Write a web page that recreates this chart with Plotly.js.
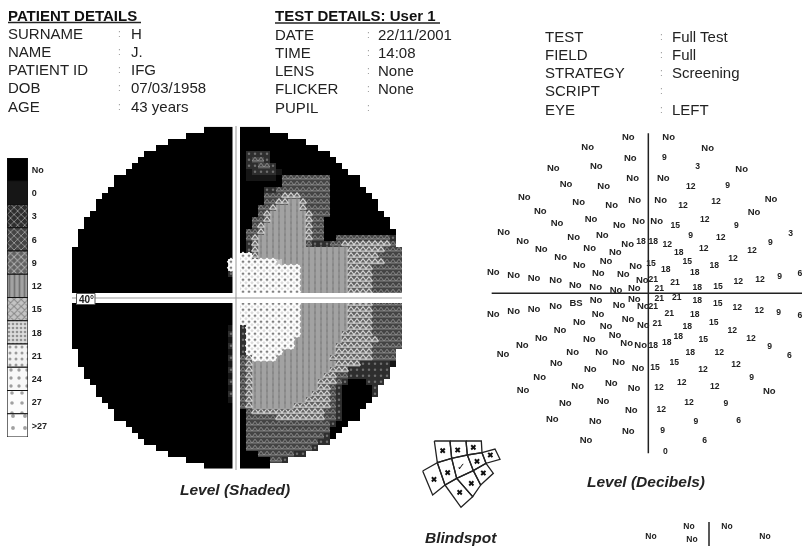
<!DOCTYPE html>
<html><head><meta charset="utf-8">
<script src="https://cdn.plot.ly/plotly-3.0.1.min.js"></script>
<style>html,body{margin:0;padding:0;background:#fff;overflow:hidden}#c{width:802px;height:546px;filter:blur(0.75px)}</style>
</head><body><div id="c"></div>
<script>
// ---------- header text ----------
const patientLabels = ["SURNAME","NAME","PATIENT ID","DOB","AGE"];
const patientValues = ["H","J.","IFG","07/03/1958","43 years"];
const testLabels = ["DATE","TIME","LENS","FLICKER","PUPIL"];
const testValues = ["22/11/2001","14:08","None","None",""];
const extraLabels = ["TEST","FIELD","STRATEGY","SCRIPT","EYE"];
const extraValues = ["Full Test","Full","Screening","","LEFT"];

// ---------- legend ----------
const levelNames = ["No","0","3","6","9","12","15","18","21","24","27",">27"];
const levelColors = ["#000000","#161616","#2e2e2e","#444444","#626262","#a2a2a2","#c4c4c4","#dcdcdc","#f2f2f2","#f8f8f8","#fcfcfc","#ffffff"];
const levelPatterns = ["","","x","x","x","|","x",".",".",".",".","."];
const levelInks = ["#000","#000","#777","#aaa","#bbb","#888","#eee","#777","#666","#888","#aaa","#bbb"];
const levelPatternSizes = [5,5,5,5,5,5,5,4,6,8,10,12];
const levelPatternFill = [0.3,0.3,0.3,0.3,0.35,0.35,0.35,0.35,0.2,0.14,0.1,0.08];

// ---------- shaded field: level grid; one code per cell ----------
const levelCodes = {N:0,"0":1,"3":2,"6":3,"9":4,C:5,F:6,E:7,T:8};
const rightRows = [
"NNNNN","NNNNNNNN","NNNNNNNNNNN","NNNNNNNNNNNNN","N3333NNNNNNNNNN","N3663NNNNNNNNNNN","N33663NNNNNNNNNNN",
"N033330NNNNNNNNNNN","N00000N66666666NNNNN","NNNNNNN66666666NNNNN","NNNN33666666666NNNNNN","NNNN66699966666NNNNNNN",
"NNNN6699CC96666NNNNNNNN","NNN669CCCC96666NNNNNNNN","NNN69CCCCCC9666NNNNNNNNN","NN669CCCCCC966NNNNNNNNNNN",
"NN69CCCCCCC966NNNNNNNNNNN","N669CCCCCCC966NNNNNNNNNNNN","N69CCCCCCCC966NN6666666663","N39CCCCCCCC633366999999996",
"N39CCCCCCCCCCCCCCC999999666","EE9CCCCCCCCCCCCCCC999996666","EEEEEEFCCCCCCCCCCC999999666","EEEEEEEEEECCCCCCCC999966666",
"EEEEEEEEEECCCCCCCC999966666","EEEEEEEEEECCCCCCCC999966666","EEEEEEEEEECCCCCCCC999966666","EEEEEEEEEECCCCCCCC999966666",
"",
"EEEEEEEEEECCCCCCCC999966666","EEEEEEEEEECCCCCCCC999966666","EEEEEEEEEECCCCCCCC999966666","EEEEEEEEEECCCCCCCC999966666",
"3EEEEEEEEECCCCCCCC999966666","3EEEEEEEEECCCCCCC9999966666","3EEEEEEEECCCCCCCC9999996666","3EEEEEEEECCCCCCC99999966666",
"3EEEEEECCCCCCCCC9999996666","69EEEECCCCCCCCC99999996666","69CCCCCCCCCCCCCC9999333330",
"69CCCCCCCCCCCCC9993333333","69CCCCCCCCCCCC99663333333","69CCCCCCCCCCC99963NNN333","69CCCCCCCCCCC9963NNNNN3",
"69CCCCCCCCCC99963NNNNN3","69CCCCCCCCC999963NNNNN","69CCCCCCC99999963NNNN","N6999999999999663NNN",
"N6666699999999663NNN","N666666666666663NN","N66666666666666NN","N66666666666663N","N66666666666633",
"N666666666663","NNN66666633","NNNNN663","NNNNN"];
const leftCols = [5,8,11,13,15,16,17,18,20,20,21,22,23,23,24,25,25,26,26,26,27,27,27,27,27,27,27,27,0,27,27,27,27,27,27,27,27,26,26,26,25,25,24,23,23,22,21,20,20,18,17,16,15,13,11,8,5];
const leftInner = {22:"E",23:"E",24:"3",33:"0",34:"3",35:"0",36:"3",37:"0",38:"3",39:"0",40:"3",41:"0",42:"3",43:"0",44:"3",45:"0"};

// ---------- decibel map: readings above the horizontal meridian ----------
const topLabels = ["No","No","No","No","No","9","No","No","3","No","No","No","No","No","12","9","No","No","No","No","No","12","12","No","No","No","No","No","No","No","No","15","12","9","No","No","No","9","12","3","No","No","18","18","12","9","No","No","No","18","12","12","No","No","15","15","12","No","No","18","18","No","No","No","No","No","No","No","18","21","No","21","12","12","9","6","No","No","No","21","18","15"];
const topX = [445,566,323,683,451,553,220,349,653,785,258,371,458,550,632,743,133,296,395,464,542,609,708,873,181,822,231,333,418,476,530,586,674,769,71,281,367,632,722,932,128,443,483,520,562,871,184,329,406,596,671,816,242,378,513,622,759,298,467,557,703,40,101,162,227,355,430,286,644,520,487,585,775,840,899,960,347,408,463,538,652,714];
const topY = [38,38,68,70,100,100,130,126,127,133,180,185,162,162,186,182,219,232,242,228,228,243,232,224,260,262,297,284,302,291,291,302,285,302,324,337,333,333,340,328,351,360,350,352,360,354,375,372,384,385,373,377,398,411,416,411,402,422,424,435,424,443,452,460,467,445,450,482,445,466,466,474,470,464,456,448,489,497,492,492,488,485];
// readings below it
const lowLabels = ["No","No","21","21","18","15","12","12","9","6","BS","No","No","No","No","No","No","21","21","18","No","15","18","12","No","No","No","No","21","No","18","No","15","12","No","No","No","18","No","18","9","No","18","12","No","No","No","6","No","No","15","12","No","No","15","12","No","9","No","12","No","No","12","12","No","No","12","No","9","12","No","No","6","No","9","No","9","No","6","No","0"];
const lowX = [348,463,538,590,652,713,772,838,896,960,288,417,227,162,101,40,490,520,568,644,354,701,622,757,444,298,378,490,532,240,595,405,670,813,184,328,440,560,482,520,869,127,631,718,278,365,69,928,229,416,583,768,331,474,525,669,179,815,394,605,293,462,537,704,129,868,627,369,738,544,256,454,776,217,648,346,548,445,674,318,556];
const lowY = [32,28,27,25,34,42,54,63,68,78,40,47,50,58,66,74,50,52,72,76,75,100,111,124,88,98,110,106,103,122,140,138,150,148,145,150,160,160,168,168,170,168,188,190,188,188,194,198,222,219,220,226,240,235,233,241,263,264,280,280,291,296,295,292,301,305,338,336,343,361,341,361,392,389,395,394,423,424,454,453,486];
// the second map, cut off by the page edge
const nextLabels = ["No","No","No","No","No"];
const nextX = [627,741,513,855,636];
const nextY = [1206,1206,1236,1236,1245];

// ---------- blindspot test grid ----------
const blindCells = [
 [[73,33],[120,33],[125,85],[82,98]],[[120,33],[168,33],[172,75],[125,85]],[[168,33],[214,33],[216,68],[172,75]],
 [[216,68],[255,57],[270,88],[228,100]],[[172,75],[216,68],[228,100],[190,122]],[[125,85],[172,75],[190,122],[140,145]],
 [[190,122],[228,100],[250,130],[212,165]],[[82,98],[125,85],[140,145],[105,165]],[[38,123],[82,98],[105,165],[68,195]],
 [[140,145],[190,122],[212,165],[188,200]],[[105,165],[140,145],[188,200],[153,232]]];
const blindMissX = [98,143,190,241,201,220,113,72,184,149];
const blindMissY = [62,60,52,75,94,129,128,148,160,187];
const blindSeenX = [153]; const blindSeenY = [113];

// ---------- build ----------
const nRows = rightRows.length, gapCol = 27;
const z = [];
for (let r=0;r<nRows;r++){
  const row = new Array(55).fill(null);
  const n = leftCols[r];
  for (let i=0;i<n;i++) row[gapCol-1-i] = 0;
  if (leftInner[r]!==undefined && n>0) row[gapCol-1] = levelCodes[leftInner[r]];
  [...rightRows[r]].forEach((ch,i)=>{row[gapCol+1+i]=levelCodes[ch];});
  z.push(row);
}
const stops=[]; const nLv=levelColors.length;
levelColors.forEach((c,i)=>{stops.push([i/nLv,c]);stops.push([(i+1)/nLv,c]);});

function cellsOf(code){const xs=[],ys=[];z.forEach((row,r)=>row.forEach((v,c)=>{if(v===code){xs.push(c);ys.push(r);}}));return {x:xs,y:ys};}
function texture(code,symbol,size,color,lw){
  const p=cellsOf(code);
  return {type:"scatter",mode:"markers",xaxis:"x",yaxis:"y",x:p.x,y:p.y,hoverinfo:"skip",cliponaxis:true,
    marker:{symbol:symbol,size:size,color:color,line:{width:lw===undefined?0:lw,color:color}}};
}
const dbFont=(labels)=>({family:"Liberation Sans",size:labels.map(s=>s==="No"||s==="BS"?9.5:8.6),color:"#222",weight:700});
const traces=[
 {type:"heatmap",xaxis:"x",yaxis:"y",z:z,zmin:0,zmax:nLv,colorscale:stops,showscale:false,zsmooth:false,hoverinfo:"skip"},
 texture(levelCodes["3"],"circle",2.5,"#6e6e6e"),
 texture(levelCodes["6"],"triangle-up-open",5,"#8c8c8c",1),
 texture(levelCodes["9"],"triangle-up-open",6,"#d0d0d0",1.2),
 texture(levelCodes.C,"line-ns",6,"#7f7f7f",1),
 texture(levelCodes.E,"diamond-open",5,"#ffffff",1.4),
 texture(levelCodes.E,"circle",2,"#777777"),
 {type:"bar",orientation:"h",xaxis:"x2",yaxis:"y2",y:levelNames,x:levelNames.map(()=>1),width:1,hoverinfo:"skip",
  marker:{color:levelColors,line:{color:"#111",width:1.2},pattern:{shape:levelPatterns,fillmode:"overlay",fgcolor:levelInks,size:levelPatternSizes,solidity:levelPatternFill}}},
 {type:"scatter",mode:"text",xaxis:"x3",yaxis:"y3",x:topX,y:topY,text:topLabels,textfont:dbFont(topLabels),hoverinfo:"skip"},
 {type:"scatter",mode:"text",xaxis:"x3",yaxis:"y3",x:lowX,y:lowY.map(v=>v+495),text:lowLabels,textfont:dbFont(lowLabels),hoverinfo:"skip"},
 {type:"scatter",mode:"text",xaxis:"x3",yaxis:"y3",x:nextX,y:nextY,text:nextLabels,textfont:{family:"Liberation Sans",size:8.5,color:"#222",weight:700},hoverinfo:"skip"},
 {type:"scatter",mode:"lines",xaxis:"x3",yaxis:"y3",x:[505,505,null,35,966],y:[25,985,null,505,505],line:{color:"#222",width:1.5},hoverinfo:"skip"},
 {type:"scatter",mode:"lines",xaxis:"x3",yaxis:"y3",x:[687,687],y:[1191,1263],line:{color:"#222",width:1.5},hoverinfo:"skip"},
 {type:"scatter",mode:"lines",xaxis:"x4",yaxis:"y4",hoverinfo:"skip",line:{color:"#222",width:1.3},
  x:blindCells.flatMap(c=>[...c.map(p=>p[0]),c[0][0],null]),y:blindCells.flatMap(c=>[...c.map(p=>p[1]),c[0][1],null])},
 {type:"scatter",mode:"markers",xaxis:"x4",yaxis:"y4",x:blindMissX,y:blindMissY,hoverinfo:"skip",marker:{symbol:"x",size:5,color:"#111"}},
 {type:"scatter",mode:"text",xaxis:"x4",yaxis:"y4",x:blindSeenX,y:blindSeenY,text:["✓"],textfont:{size:10,color:"#111"},hoverinfo:"skip"},
];

const W=802,H=546;
const dx=(a,b)=>[a/W,b/W], dy=(a,b)=>[1-b/H,1-a/H];
const hidden={visible:false,fixedrange:true};
const anns=[];
const T=(x,y,text,o={})=>anns.push(Object.assign({xref:"x5",yref:"y5",x,y,text,showarrow:false,xanchor:"left",yanchor:"middle",
  font:{family:"Liberation Sans",size:15,color:"#222"}},o));
function block(labels,values,x1,xc,x2,y0,step){
  labels.forEach((l,i)=>{const y=y0+i*step;T(x1,y,l);T(xc,y,":",{font:{family:"Liberation Sans",size:10,color:"#999"}});if(values[i])T(x2,y,values[i]);});
}
block(patientLabels,patientValues,6,116,129,33,18.3);
block(testLabels,testValues,273,365,376,34,18.3);
block(extraLabels,extraValues,543,658,670,36,18.3);
const headFont={family:"Liberation Sans",size:15,color:"#111"};
T(6,15,"<b>PATIENT DETAILS</b>",{font:headFont});
T(273,15.5,"<b>TEST DETAILS: User 1</b>",{font:headFont});
const capFont=s=>({family:"Liberation Sans",size:s,color:"#222"});
T(235,489,"<b><i>Level (Shaded)</i></b>",{xanchor:"center",font:capFont(15.5)});
T(646,481,"<b><i>Level (Decibels)</i></b>",{xanchor:"center",font:capFont(15.5)});
T(461,537,"<b><i>Blindspot</i></b>",{xanchor:"center",font:capFont(15.5)});
T(86,299,"<b>40°</b>",{xanchor:"center",font:capFont(10)});

const pageLine=(x0,y0,x1,y1,c,w)=>({type:"line",xref:"x5",yref:"y5",x0,y0,x1,y1,line:{color:c,width:w},layer:"above"});
const shapes=[
 pageLine(8,22.5,141,22.5,"#222",1.5),pageLine(275,23,440,23,"#222",1.5),
 {type:"rect",xref:"x5",yref:"y5",x0:232.5,x1:240,y0:126,y1:470,fillcolor:"#fff",line:{width:0},layer:"above"},
 {type:"rect",xref:"x5",yref:"y5",x0:72,x1:402,y0:293,y1:303,fillcolor:"#fff",line:{width:0},layer:"above"},
 pageLine(236,126,236,470,"#999",1),pageLine(72,298,402,298,"#999",1),
 {type:"rect",xref:"x5",yref:"y5",x0:76.5,x1:95,y0:293.5,y1:304.5,fillcolor:"#fff",line:{color:"#555",width:1},layer:"above"},
];

const layout={width:W,height:H,margin:{l:0,r:0,t:0,b:0},paper_bgcolor:"#fff",plot_bgcolor:"rgba(0,0,0,0)",showlegend:false,bargap:0,
 xaxis:Object.assign({domain:dx(72,402),range:[-0.5,54.5],anchor:"y"},hidden),
 yaxis:Object.assign({domain:dy(126.7,468.7),range:[56.5,-0.5],anchor:"x"},hidden),
 xaxis2:{domain:dx(7,28),range:[0,1],anchor:"y2",visible:false,fixedrange:true},
 yaxis2:{domain:dy(158,437),anchor:"x2",side:"right",type:"category",categoryorder:"array",categoryarray:levelNames,autorange:"reversed",
   showline:false,showgrid:false,zeroline:false,ticks:"outside",ticklen:1,tickcolor:"rgba(0,0,0,0)",fixedrange:true,tickfont:{family:"Liberation Sans",size:9,color:"#222",weight:700}},
 xaxis3:Object.assign({domain:dx(480,802),range:[0,966],anchor:"y3"},hidden),
 yaxis3:Object.assign({domain:dy(125,546),range:[1263,0],anchor:"x3"},hidden),
 xaxis4:Object.assign({domain:dx(410,510),range:[0,300],anchor:"y4"},hidden),
 yaxis4:Object.assign({domain:dy(430,510),range:[240,0],anchor:"x4"},hidden),
 xaxis5:Object.assign({domain:[0,1],range:[0,W],anchor:"y5"},hidden),
 yaxis5:Object.assign({domain:[0,1],range:[H,0],anchor:"x5"},hidden),
 annotations:anns,shapes:shapes};
Plotly.newPlot("c",traces,layout,{displayModeBar:false,staticPlot:true});
</script></body></html>
